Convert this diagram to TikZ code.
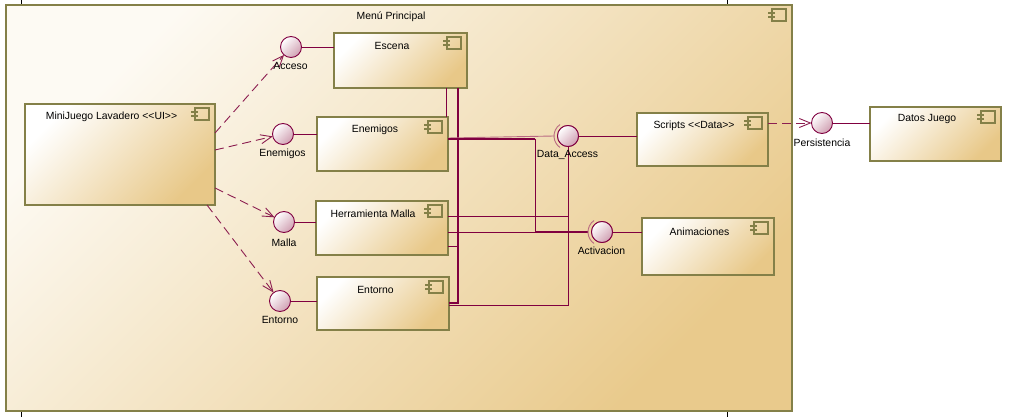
\documentclass[tikz,border=0pt]{standalone}
\usepackage{fontspec}
\setmainfont[Ligatures=NoCommon]{Liberation Sans}
\usetikzlibrary{arrows.meta,calc}
\definecolor{compolive}{RGB}{132,128,72}
\definecolor{compgold}{RGB}{232,200,136}
\definecolor{contgold}{RGB}{233,202,140}
\definecolor{contcream}{RGB}{253,250,243}
\definecolor{wirecol}{RGB}{128,0,64}
\definecolor{depcol}{RGB}{140,30,80}
\definecolor{ifacepink}{RGB}{208,160,178}
\definecolor{sockcol}{RGB}{185,105,130}
\newcommand\compicon[1]{%
  \begin{scope}[shift={(#1)}]
    \draw[iconline] (-20,4) rectangle (-6,16);
    \draw[draw=compolive,line width=1.8pt] (-24,8) -- (-17,8) (-24,12) -- (-17,12);
  \end{scope}}
\newcommand\lt{<\kern0pt}
\begin{document}
\begin{tikzpicture}[x=1pt,y=-1pt,
  compbox/.style={draw=compolive,line width=2.2pt,shading=axis,top color=white,bottom color=compgold,shading angle=45,inner sep=0pt,outer sep=0pt},
  contbox/.style={draw=compolive,line width=2.2pt,shading=axis,top color=contcream,bottom color=contgold,shading angle=45,inner sep=0pt,outer sep=0pt},
  lbl/.style={font=\fontsize{10.4}{12}\selectfont,text=black,inner sep=0pt},
  iface/.style={circle,draw=wirecol,line width=0.9pt,minimum size=21pt,inner sep=0pt,outer sep=0pt,shading=axis,top color=white,bottom color=ifacepink,shading angle=45},
  wirel/.style={draw=wirecol,line width=0.9pt},
  wireb/.style={draw=wirecol,line width=1.8pt},
  depend/.style={draw=depcol,line width=0.9pt,dash pattern=on 9pt off 5pt,-{Straight Barb[length=11pt,width=9pt]}},
  socket/.style={draw=sockcol,line width=0.9pt},
  iconline/.style={draw=compolive,line width=2.4pt},
]
\useasboundingbox (0,0) rectangle (1015,417);

% tick marks
\draw[black,line width=0.6pt] (21,0) -- (21,5) (727,0) -- (727,5) (21,412) -- (21,417) (727,412) -- (727,417);

% container
\node[contbox,minimum width=786pt,minimum height=406pt] (menu) at (399,208) {};
\node[lbl] (menu-t) at (391,17) {Menú Principal};
\compicon{menu.north east}

% helper coordinates
\coordinate (c446) at (446,0);
\coordinate (c458) at (458,0);
\coordinate (c535) at (535,0);
\coordinate (c568) at (568,0);
\coordinate (y138) at (0,138);
\coordinate (y139) at (0,139);
\coordinate (y216) at (0,216);
\coordinate (y232) at (0,232);
\coordinate (y246) at (0,246);
\coordinate (y303) at (0,303);
\coordinate (y305) at (0,305);

% components
\node[compbox,minimum width=190pt,minimum height=101pt] (ui) at (120,154.5) {};
\node[compbox,minimum width=133pt,minimum height=55pt] (escena) at (400.5,60.5) {};
\node[compbox,minimum width=131pt,minimum height=54pt] (enemigos) at (382.5,144) {};
\node[compbox,minimum width=132pt,minimum height=54pt] (herr) at (382,228) {};
\node[compbox,minimum width=132pt,minimum height=53pt] (entorno) at (383,303.5) {};
\node[compbox,minimum width=131pt,minimum height=53pt] (scripts) at (702.5,139.5) {};
\node[compbox,minimum width=132pt,minimum height=57pt] (anim) at (708,246.5) {};
\node[compbox,minimum width=131pt,minimum height=54pt] (datos) at (935.5,134) {};

% interfaces
\node[iface] (acc) at (291,47) {};
\node[iface] (ene) at (283,134) {};
\node[iface] (mal) at (284,222) {};
\node[iface] (ent) at (280,301) {};
\node[iface] (da) at (568,136) {};
\node[iface] (act) at (602,232) {};
\node[iface] (pers) at (822,123) {};
\coordinate (dasock) at (554,136);
\coordinate (actsock) at (588,232);

% wires inside
\draw[wirel] (escena.south -| c446) -- (enemigos.north -| c446);
\draw[wireb] (escena.south -| c458) -- (c458 |- y303) -- (entorno.east |- y303);
\draw[wirel] (herr.east |- y246) -- (c458 |- y246);
\draw[socket] (enemigos.east |- y138) -- (dasock);
\draw[wireb] (enemigos.east |- y139) -- (c535 |- y139);
\draw[wirel] (c535 |- y139) -- (c535 |- y232);
\draw[wireb] (c535 |- y232) -- (actsock);
\draw[wirel] (herr.east |- y232) -- (actsock);
\draw[wirel] (herr.east |- y216) -- (c568 |- y216) -- (da.south);
\draw[wirel] (entorno.east |- y305) -- (c568 |- y305) -- (da.south);

% provided interfaces
\draw[wirel] (acc.east) -- (acc.east -| escena.west);
\draw[wirel] (ene.east) -- (ene.east -| enemigos.west);
\draw[wirel] (mal.east) -- (mal.east -| herr.west);
\draw[wirel] (ent.east) -- (ent.east -| entorno.west);
\draw[wirel] (da.east) -- (da.east -| scripts.west);
\draw[wirel] (act.east) -- (act.east -| anim.west);
\draw[wirel] (pers.east) -- (pers.east -| datos.west);

% sockets
\draw[socket] ([shift={(125:14pt)}]da.center) arc[start angle=125,end angle=235,radius=14pt];
\draw[socket] ([shift={(125:14pt)}]act.center) arc[start angle=125,end angle=235,radius=14pt];

% redraw interfaces on top
\node[iface] (da2) at (da) {};
\node[iface] (act2) at (act) {};

% dependencies
\draw[depend] ([yshift=-29pt]ui.north east) -- (acc);
\draw[depend] ([yshift=-46pt]ui.north east) -- (ene);
\draw[depend] ([yshift=-84pt]ui.north east) -- (mal);
\draw[depend] ([xshift=-8pt]ui.south east) -- (ent);
\draw[depend] (scripts.east |- pers) -- (pers);

% component texts and icons
\node[lbl] (ui-t) at (111.5,117) {MiniJuego Lavadero \lt\lt UI>{}>};
\node[lbl] (escena-t) at (392,46) {Escena};
\node[lbl] (enemigos-t) at (375,130) {Enemigos};
\node[lbl] (herr-t) at (373,214) {Herramienta Malla};
\node[lbl] (entorno-t) at (375.5,290) {Entorno};
\node[lbl] (scripts-t) at (694,126) {Scripts \lt\lt Data>{}>};
\node[lbl] (anim-t) at (699.5,232) {Animaciones};
\node[lbl] (datos-t) at (927,119) {Datos Juego};
\foreach \n in {ui,escena,enemigos,herr,entorno,scripts,anim,datos} {\compicon{\n.north east}}

% interface labels
\node[lbl] (acc-t) at (290.5,66) {Acceso};
\node[lbl] (ene-t) at (282.5,154) {Enemigos};
\node[lbl] (mal-t) at (284,243) {Malla};
\node[lbl] (ent-t) at (280,320) {Entorno};
\node[lbl] (da-t) at (567.5,155) {Data\_Access};
\node[lbl] (act-t) at (601.5,251) {Activacion};
\node[lbl] (pers-t) at (822,143) {Persistencia};
\end{tikzpicture}
\end{document}
